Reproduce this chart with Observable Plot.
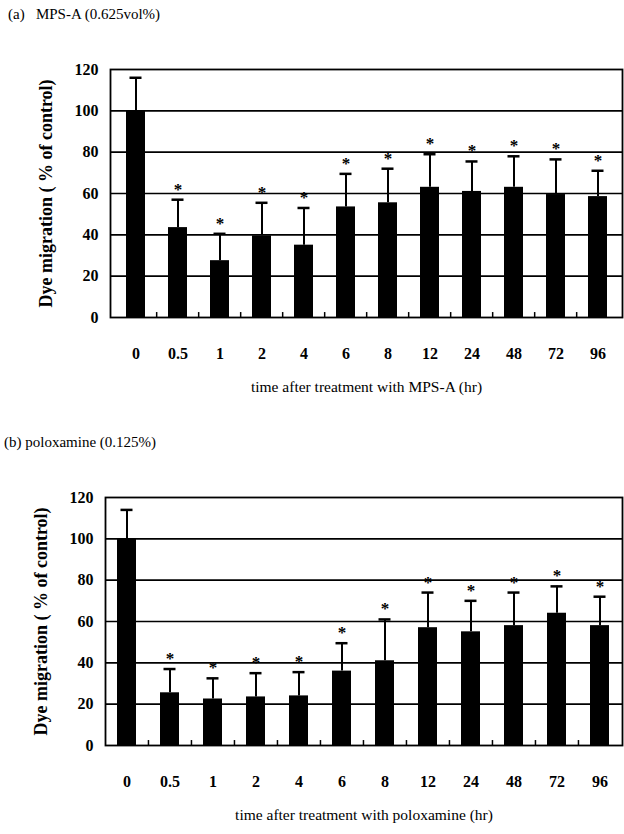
<!DOCTYPE html>
<html>
<head>
<meta charset="utf-8">
<script src="https://cdn.jsdelivr.net/npm/d3@7"></script>
<script src="https://cdn.jsdelivr.net/npm/@observablehq/plot@0.6"></script>
<style>
  html, body { margin: 0; padding: 0; background: #fff; }
  body { width: 624px; height: 834px; position: relative; overflow: hidden; font-family: "Liberation Serif", "DejaVu Serif", serif; color: #000; }
  .title { position: absolute; font-size: 15px; white-space: pre; }
  .panel { position: absolute; left: 0; }
  svg, svg text { font-family: "Liberation Serif", "DejaVu Serif", serif !important; }
</style>
</head>
<body>
<div class="title" style="left:8px; top:6px;">(a)   MPS-A (0.625vol%)</div>
<div id="pa" class="panel" style="top:50px;"></div>
<div class="title" style="left:4px; top:434px;">(b) poloxamine (0.125%)</div>
<div id="pb" class="panel" style="top:470px;"></div>
<script>
const categories = ["0", "0.5", "1", "2", "4", "6", "8", "12", "24", "48", "72", "96"];
const yTicks = [0, 20, 40, 60, 80, 100, 120];

// Panel (a) MPS-A: mean and upper SD (% of control)
const mpsMean = [100, 43.5, 27.5, 39.5, 35, 53.5, 55.5, 63, 61, 63, 59.5, 58.5];
const mpsSD   = [16, 13.5, 13, 16, 18, 16, 16.5, 16, 14.5, 15, 17, 12.5];
const mpsSig  = [false, true, true, true, true, true, true, true, true, true, true, true];

// Panel (b) poloxamine: mean and upper SD (% of control)
const poloMean = [100, 25.5, 22.5, 23.5, 24, 36, 41, 57, 55, 58, 64, 58];
const poloSD   = [14, 11.5, 10, 11.5, 11.5, 13.5, 20, 17, 15, 16, 13, 14];
const poloSig  = [false, true, true, true, true, true, true, true, true, true, true, true];

const yLabel = "Dye migration ( % of control)";
const xLabelA = "time after treatment with MPS-A (hr)";
const xLabelB = "time after treatment with poloxamine (hr)";

function panel({mean, sd, sig, xLabel, height, marginTop, marginBottom, marginLeft}) {
  const width = 624, marginRight = 2;
  const data = categories.map((c, i) => ({c, v: mean[i], e: mean[i] + sd[i], s: sig[i]}));
  const step = (width - marginLeft - marginRight) / categories.length;
  return Plot.plot({
    width, height, marginTop, marginBottom, marginLeft, marginRight,
    style: {background: "#fff", color: "#000", overflow: "visible"},
    x: {domain: categories, paddingInner: 0.55, paddingOuter: 0.275, axis: null},
    y: {domain: [0, 120], axis: null},
    marks: [
      Plot.ruleY(yTicks.slice(1, -1), {stroke: "#000", strokeWidth: 1.6}),
      Plot.frame({stroke: "#000", strokeWidth: 1.8}),
      Plot.ruleX(categories.slice(1), {x: d => d, y1: 0, y2: 2.4, dx: -step / 2, stroke: "#000", strokeWidth: 1.5}),
      Plot.ruleX(data, {x: "c", y1: "v", y2: "e", stroke: "#000", strokeWidth: 2}),
      Plot.tickY(data, {x: "c", y: "e", stroke: "#000", strokeWidth: 2.5, insetLeft: 3.5, insetRight: 3.5}),
      Plot.barY(data, {x: "c", y: "v", fill: "#000"}),
      Plot.text(data.filter(d => d.s), {x: "c", y: "e", text: () => "*", dy: -5, fontSize: 17, fontWeight: "bold", lineAnchor: "bottom"}),
      Plot.axisY({ticks: yTicks, tickSize: 0, tickPadding: 12, fontSize: 16, fontWeight: "bold", label: null}),
      Plot.axisX({tickSize: 0, tickPadding: 30, fontSize: 16, fontWeight: "bold", label: null}),
      Plot.text([yLabel], {frameAnchor: "left", text: d => d, rotate: -90, textAnchor: "middle", dx: -64, fontSize: 18, fontWeight: "bold"}),
      Plot.text([xLabel], {frameAnchor: "bottom", text: d => d, dy: 74, fontSize: 15.5})
    ]
  });
}

document.getElementById("pa").appendChild(panel({
  mean: mpsMean, sd: mpsSD, sig: mpsSig, xLabel: xLabelA,
  height: 360, marginTop: 19, marginBottom: 93, marginLeft: 110
}));
document.getElementById("pb").appendChild(panel({
  mean: poloMean, sd: poloSD, sig: poloSig, xLabel: xLabelB,
  height: 364, marginTop: 27, marginBottom: 89, marginLeft: 105
}));
</script>
</body>
</html>
